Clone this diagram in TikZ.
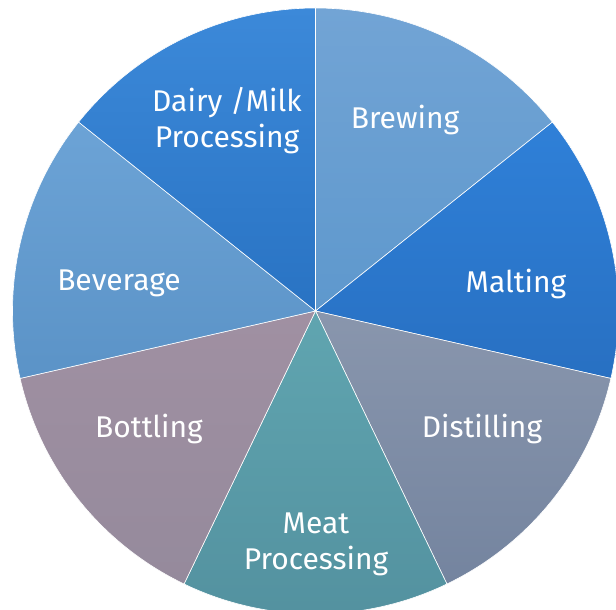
\documentclass[tikz,border=0pt]{standalone}
\usepackage{fontspec}
\setmainfont{Fira Sans}
\usepackage{tikz}

\definecolor{brewtop}{HTML}{72A4D5}
\definecolor{brewbot}{HTML}{5E98CD}
\definecolor{malttop}{HTML}{2F80D8}
\definecolor{maltbot}{HTML}{2870C2}
\definecolor{disttop}{HTML}{8996AD}
\definecolor{distbot}{HTML}{74849F}
\definecolor{meattop}{HTML}{60A5B0}
\definecolor{meatbot}{HTML}{53919F}
\definecolor{bottop}{HTML}{A090A2}
\definecolor{botbot}{HTML}{958A9C}
\definecolor{bevtop}{HTML}{6CA3D6}
\definecolor{bevbot}{HTML}{5B93C7}
\definecolor{dairytop}{HTML}{3C89D9}
\definecolor{dairybot}{HTML}{2973C3}

\begin{document}
\begin{tikzpicture}[x=1pt, y=1pt]
\tikzstyle{slice} = [draw=white, line width=0.6pt]
\tikzstyle{label} = [text=white, align=center, font=\fontsize{30}{36}\selectfont]

\useasboundingbox (-315.5,-299) rectangle (300.5,311);

\shadedraw [slice, top color=brewtop, bottom color=brewbot] (0,0) -- (90:303) arc[start angle=90, end angle=38.57, radius=303] -- cycle;
\shadedraw [slice, top color=malttop, bottom color=maltbot] (0,0) -- (38.57:303) arc[start angle=38.57, end angle=-12.86, radius=303] -- cycle;
\shadedraw [slice, top color=disttop, bottom color=distbot] (0,0) -- (-12.86:303) arc[start angle=-12.86, end angle=-64.29, radius=303] -- cycle;
\shadedraw [slice, top color=meattop, bottom color=meatbot] (0,0) -- (-64.29:303) arc[start angle=-64.29, end angle=-115.71, radius=303] -- cycle;
\shadedraw [slice, top color=bottop, bottom color=botbot] (0,0) -- (-115.71:303) arc[start angle=-115.71, end angle=-167.14, radius=303] -- cycle;
\shadedraw [slice, top color=bevtop, bottom color=bevbot] (0,0) -- (-167.14:303) arc[start angle=-167.14, end angle=-218.57, radius=303] -- cycle;
\shadedraw [slice, top color=dairytop, bottom color=dairybot] (0,0) -- (141.43:303) arc[start angle=141.43, end angle=90, radius=303] -- cycle;

\node (brewing) [label] at (89.5,191) {Brewing};
\node (malting) [label] at (200.5,27) {Malting};
\node (distilling) [label] at (166.5,-118) {Distilling};
\node (meat) [label] at (0.5,-233) {Meat\\Processing};
\node (bottling) [label] at (-166.5,-118) {Bottling};
\node (beverage) [label] at (-196.5,28) {Beverage};
\node (dairy) [label] at (-88.5,190) {Dairy /Milk\\Processing};
\end{tikzpicture}
\end{document}
